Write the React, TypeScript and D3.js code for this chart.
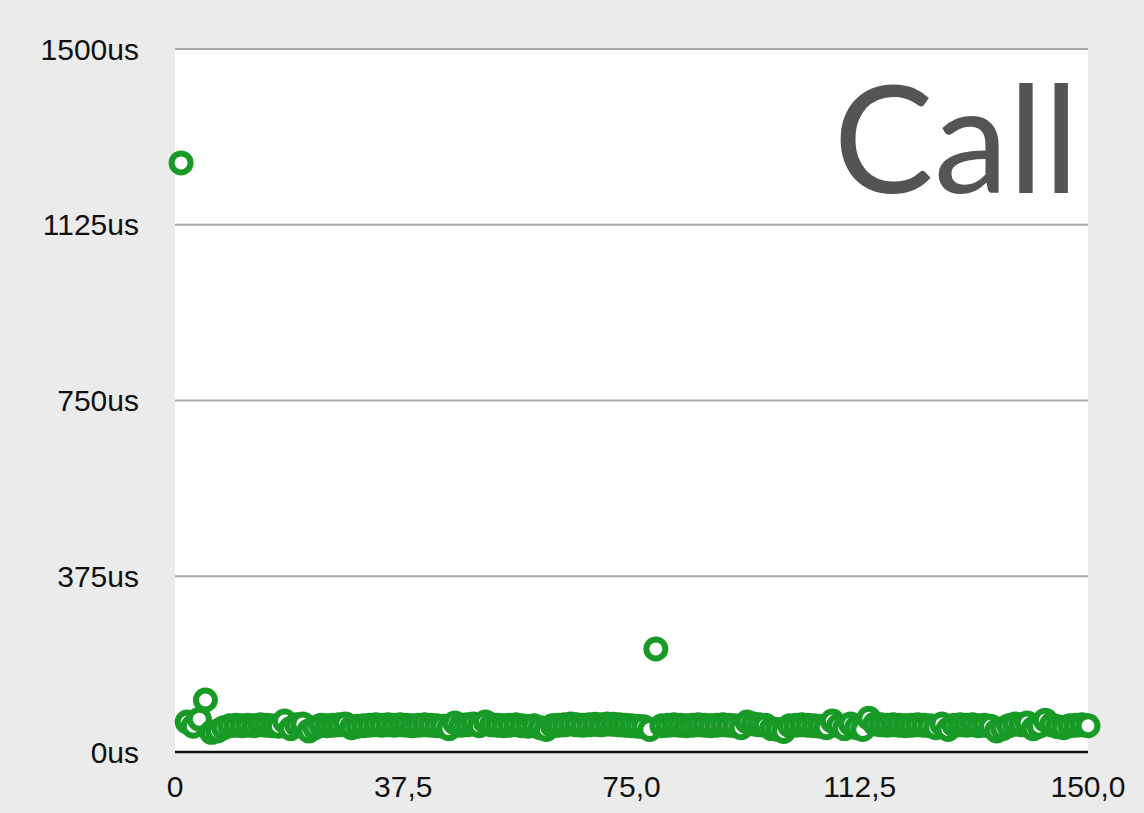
import React from "react";
import * as d3 from "d3";

const W = 1144;
const H = 813;

const xTicks = [0, 37.5, 75, 112.5, 150];
const yTicks = [0, 375, 750, 1125, 1500];
const title = "Call";

// call durations (us), call index 1..150
const callTimes = [
  1257, 64, 55, 70, 111, 42, 45, 52, 56, 57,
  56, 57, 56, 58, 57, 56, 55, 66, 50, 58,
  60, 45, 52, 57, 56, 57, 58, 60, 52, 55,
  56, 57, 58, 57, 58, 57, 58, 57, 56, 57,
  58, 57, 56, 55, 50, 62, 57, 58, 60, 56,
  64, 58, 57, 56, 57, 58, 56, 55, 56, 52,
  48, 56, 57, 58, 60, 58, 57, 58, 59, 58,
  60, 59, 58, 57, 56, 55, 54, 48, 220, 56,
  57, 58, 57, 56, 57, 58, 57, 56, 57, 58,
  57, 56, 52, 64, 60, 58, 57, 50, 48, 44,
  56, 57, 58, 57, 56, 55, 52, 66, 56, 50,
  60, 52, 48, 72, 60, 58, 57, 58, 57, 56,
  57, 58, 57, 56, 52, 60, 48, 57, 58, 57,
  58, 56, 57, 55, 45, 50, 56, 60, 58, 62,
  50, 55, 68, 58, 54, 52, 56, 57, 58, 56,
];

export default function App() {
  const left = 175;
  const right = 1088;
  const top = 49;
  const bottom = 752;

  const x = d3.scaleLinear().domain([0, 150]).range([left, right]);
  const y = d3.scaleLinear().domain([0, 1500]).range([bottom, top]);

  const fmtX = (v: number) => (v === 0 ? "0" : d3.format(".1f")(v).replace(".", ","));

  return (
    <svg
      width={W}
      height={H}
      style={{ position: "absolute", left: 0, top: 0, display: "block" }}
      fontFamily="'Liberation Sans', Arial, sans-serif"
    >
      <rect x={0} y={0} width={W} height={H} fill="#ebebeb" />
      <rect x={left} y={top} width={right - left} height={bottom - top} fill="#ffffff" />
      {yTicks.map((t) =>
        t === 0 ? null : (
          <line key={"g" + t} x1={left} x2={right} y1={y(t)} y2={y(t)} stroke="#a8a8a8" strokeWidth={2} />
        )
      )}
      {yTicks.map((t) => (
        <text
          key={"yl" + t}
          x={139}
          y={y(t)}
          dy="0.35em"
          textAnchor="end"
          fontSize={30}
          fill="#111"
        >
          {t + "us"}
        </text>
      ))}
      {xTicks.map((t) => (
        <text key={"xl" + t} x={x(t)} y={786} dy="0.35em" textAnchor="middle" fontSize={30} fill="#111">
          {fmtX(t)}
        </text>
      ))}
      <text
        x={1079}
        y={193}
        textAnchor="end"
        fontSize={150}
        fill="#545454"
        fontFamily="Lato, 'Open Sans', sans-serif"
      >
        {title}
      </text>
      <g>
        {callTimes.map((v, i) => (
          <circle
            key={i}
            cx={x(i + 1)}
            cy={y(v)}
            r={9.5}
            fill="#ffffff"
            stroke="#189a26"
            strokeWidth={6}
          />
        ))}
      </g>
      <line x1={left} x2={right} y1={bottom} y2={bottom} stroke="#111" strokeWidth={2.5} />
    </svg>
  );
}
